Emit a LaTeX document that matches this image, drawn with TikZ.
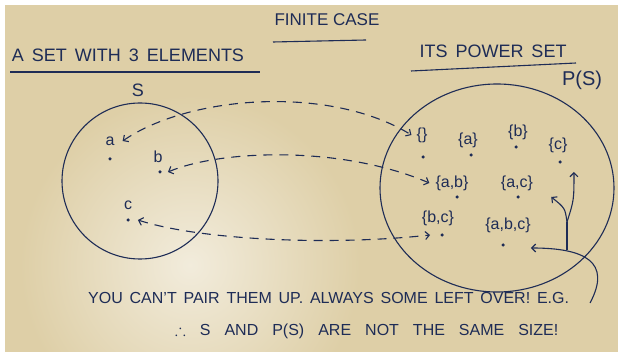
\documentclass[tikz,border=0pt]{standalone}
\usepackage{amssymb}
\usepackage{fontspec}
\setmainfont{Liberation Sans}
\usepackage{xcolor}
\usetikzlibrary{arrows.meta}
\definecolor{paper}{RGB}{222,207,167}
\definecolor{ink}{RGB}{30,44,86}

\begin{document}
\begin{tikzpicture}[
            x = 1pt, y = -1pt,
            >={Straight Barb[length = 4pt, width = 8pt]},
            pen/.style = {draw = ink, line width = 1.1pt},
            link/.style = {pen, <->, dash pattern = on 9pt off 7pt},
            pointer/.style = {pen, ->},
            dot/.style = {circle, fill = ink, inner sep = 0pt, minimum size = 3.5pt},
            hand/.style = {text = ink, inner sep = 0pt},
            title/.style = {hand, font = {\fontsize{18}{18}\selectfont\spaceskip=8pt\relax}},
            elem/.style = {hand, font = \fontsize{16}{16}\selectfont},
            note/.style = {hand, anchor = west, font = {\fontsize{16}{16}\selectfont\spaceskip=#1\relax}}
            ]
            \useasboundingbox (0,0) rectangle (618,352);
            \fill[white] (0,0) rectangle (618,352);
            \fill[paper] (5,5) rectangle (618,352);
            \begin{scope}
                \clip (5,5) rectangle (618,352);
                \shade[inner color = paper!40!white, outer color = paper] (190,265) circle [radius = 170pt];
            \end{scope}

            \node[hand, font = {\fontsize{17}{17}\selectfont}] (finite) at (327,20) {FINITE CASE};
            \node[title] (aset) at (128,55) {A SET WITH 3 ELEMENTS};
            \node[title] (power) at (493,51) {ITS POWER SET};
            \draw[pen] (273,42) -- (366,40);
            \draw[pen] (10,72) -- (260,72);
            \draw[pen] (411,71) -- (576,63);

            \draw[pen] (140,181) ellipse [x radius = 78, y radius = 78];
            \node[hand, font = \fontsize{18}{18}\selectfont] (S) at (138,90) {S};
            \node[dot] (da) at (110,159) {};
            \node[elem] (la) at (110,141) {a};
            \node[dot] (db) at (160,172) {};
            \node[elem] (lb) at (158,157) {b};
            \node[dot] (dc) at (128,220) {};
            \node[elem] (lc) at (128,205) {c};

            \draw[pen] (497,188) ellipse [x radius = 117, y radius = 104];
            \node[hand, font = \fontsize{20}{20}\selectfont] (PS) at (582,80) {P(S)};
            \foreach \n/\x/\y/\t/\u/\v in {
                e/422/135/{\{\}}/423/157,
                a/468/140/{\{a\}}/471/155,
                b/518/132/{\{b\}}/516/147,
                c/558/145/{\{c\}}/560/162,
                ab/452/183/{\{a,b\}}/457/197,
                ac/517/183/{\{a,c\}}/518/197,
                bc/438/218/{\{b,c\}}/442/235,
                abc/508/225/{\{a,b,c\}}/503/245}
                {
                \node[elem] (s\n) at (\x,\y) {\t};
                \node[dot] (p\n) at (\u,\v) {};
                }

            \draw[link] ([xshift = 8pt]la.east) .. controls (190,95) and (330,85) .. ([xshift = -5pt]se.west);
            \draw[link] ([xshift = 6pt]db.east) .. controls (220,150) and (340,145) .. ([xshift = -6pt]sab.west);
            \draw[link] ([xshift = 8pt]dc.east) .. controls (200,240) and (330,246) .. ([xshift = -10pt]pbc.west);

            \coordinate (hook) at (590,303);
            \coordinate (fork) at (567,250);
            \coordinate (split) at (567,222);
            \draw[pointer] (hook) .. controls (612,262) and (585,248) .. ([shift = {(26,3)}]pabc.east);
            \draw[pen] (fork) -- (split);
            \draw[pointer] (split) .. controls (565,208) .. ([shift = {(18,14)}]sac.east);
            \draw[pointer] (split) .. controls (574,200) .. ([shift = {(12,10)}]pc.east);

            \node[note = 6.8pt] (pair) at (88,298) {YOU CAN'T PAIR THEM UP. ALWAYS SOME LEFT OVER! E.G.};
            \node[note = 14pt] (size) at (175,331) {$\therefore$ S AND P(S) ARE NOT THE SAME SIZE!};
        \end{tikzpicture}
\end{document}
